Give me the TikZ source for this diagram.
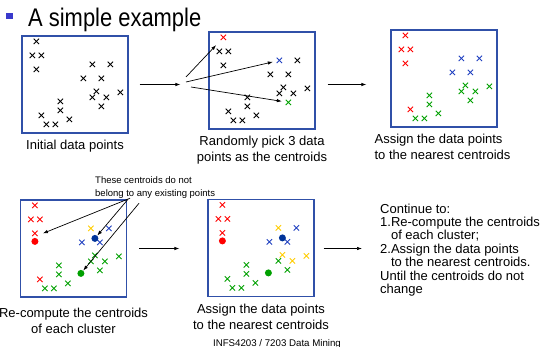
\documentclass[tikz,border=0pt]{standalone}
\usepackage{fontspec}
\setmainfont{Liberation Sans}
\newfontfamily\titlefont[FakeStretch=0.86]{Liberation Sans}
\usetikzlibrary{positioning,shapes.misc,arrows.meta}
\definecolor{kr}{HTML}{FF0000}
\definecolor{kb}{HTML}{2040C0}
\definecolor{kg}{HTML}{00A000}
\definecolor{ky}{HTML}{FFCC00}
\definecolor{kk}{HTML}{000000}
\definecolor{kdb}{HTML}{003399}
\definecolor{boxblue}{HTML}{3050A8}
\definecolor{bullet}{HTML}{3A3ACC}
\tikzset{box/.style={draw=boxblue,line width=1.2pt,minimum width=106pt,minimum height=97pt,inner sep=0pt},
  pnt/.style={cross out,draw,minimum size=4.5pt,inner sep=0pt,line width=0.8pt},
  cen/.style={circle,inner sep=0pt,minimum size=7pt},
  capt/.style={font=\fontsize{13}{16}\selectfont,align=center,inner sep=0pt},
  remark/.style={font=\fontsize{9.5}{12.5}\selectfont,align=left,inner sep=0pt,anchor=north west},
  arr/.style={-{Latex[length=5pt,width=3.5pt]},line width=0.7pt}}
% data points, offsets from the top left corner of a box
\def\ptx{{15,11,20,15,71,89,62,80,75,71,85,99,80,39,39,20,48,25,34}}
\def\pty{{6,20,20,34,29,29,43,43,56,62,62,57,71,66,75,80,84,89,89}}
\newcommand{\drawpts}[2]{%
  \foreach \c [count=\i from 0] in {#2}{%
    \pgfmathsetmacro{\ptdx}{\ptx[\i]}%
    \pgfmathsetmacro{\ptdy}{\pty[\i]}%
    \node[pnt,draw=\c] (#1-\i) at ([shift={(\ptdx,\ptdy)}]#1.north west) {};}}

\begin{document}
\begin{tikzpicture}[x=1pt,y=-1pt]
\useasboundingbox (0,0) rectangle (541,347);

\node[fill=bullet,minimum size=6.6pt,inner sep=0pt] (bul) at (9.3,16) {};
\node[font=\titlefont\fontsize{25.5}{28}\selectfont,anchor=base west,inner sep=0pt] (title) at (28,26.7) {A simple example};

\node[box] (b1) at (75,84.5) {};
\node[box] (b2) at (262,80.5) {};
\node[box] (b3) at (444,78.5) {};
\node[box] (b4) at (73.5,248.5) {};
\node[box] (b5) at (261,248) {};

\drawpts{b1}{kk,kk,kk,kk,kk,kk,kk,kk,kk,kk,kk,kk,kk,kk,kk,kk,kk,kk,kk}
\drawpts{b2}{kr,kk,kk,kk,kb,kk,kk,kk,kk,kk,kk,kk,kg,kk,kk,kk,kk,kk,kk}
\drawpts{b3}{kr,kr,kr,kr,kb,kb,kb,kb,kg,kg,kg,kg,kg,kg,kg,kr,kg,kg,kg}
\drawpts{b4}{kr,kr,kr,kr,ky,kb,kb,kb,kg,kg,kg,kg,kg,kg,kg,kr,kg,kg,kg}
\drawpts{b5}{kr,kr,kr,kr,ky,kb,kb,kb,ky,kg,ky,ky,kg,kg,kg,kg,kg,kg,kg}

% centroids
\node[cen,fill=kr] (c4r) at ([shift={(15,42)}]b4.north west) {};
\node[cen,fill=kdb] (c4b) at ([shift={(75,39)}]b4.north west) {};
\node[cen,fill=kg] (c4g) at ([shift={(61,74)}]b4.north west) {};
\node[cen,fill=kr] (c5r) at ([shift={(15,42)}]b5.north west) {};
\node[cen,fill=kdb] (c5b) at ([shift={(75,39)}]b5.north west) {};
\node[cen,fill=kg] (c5g) at ([shift={(61,74)}]b5.north west) {};

\node[capt,below=6.5pt of b1] (t1) {Initial data points};
\node[capt,below=6.5pt of b2] (t2) {Randomly pick 3 data\\points as the centroids};
\node[capt,align=left,anchor=north west] (t3) at ([xshift=-16pt,yshift=-6pt]b3.south west) {Assign the data points\\to the nearest centroids};
\node[capt,below=10pt of b4] (t4) {Re-compute the centroids\\of each cluster};
\node[capt,below=7pt of b5] (t5) {Assign the data points\\to the nearest centroids};

\node[capt,align=left,anchor=north west,font=\fontsize{13}{13.4}\selectfont] (cont) at (380,203.5)
  {Continue to:\\1.Re-compute the centroids\\\hphantom{1.}of each cluster;\\2.Assign the data points\\\hphantom{2.}to the nearest centroids.\\Until the centroids do not\\change};

\node[remark] (note) at (95,176.5) {These centroids do not\\belong to any existing points};
\node[font=\fontsize{9.7}{11}\selectfont,anchor=base] (foot) at (277,346.3) {INFS4203 / 7203 Data Mining};

% arrows between the steps
\draw[arr] ([xshift=11pt]b1.east) -- ([xshift=-28pt]b2.west |- b1.east);
\draw[arr] ([xshift=12pt]b2.east |- b1.east) -- ([xshift=-24pt]b3.west |- b1.east);
\draw[arr] ([xshift=12pt]b4.east) -- ([xshift=-28pt]b5.west |- b4.east);
\draw[arr] ([xshift=9pt]b5.east |- b4.east) -- ([xshift=-18pt]cont.west |- b4.east);

% random pick
\coordinate (s1) at (186,77);
\coordinate (s2) at (186,82);
\coordinate (s3) at (191,87);
\draw[arr,shorten >=7pt] (s1) -- (b2-0);
\draw[arr,shorten >=4pt] (s2) -- (b2-4);
\draw[arr,shorten >=4pt] (s3) -- (b2-12);

% pointers to the new centroids
\coordinate (nr) at ([xshift=35pt]note.south west);
\coordinate (nb) at ([xshift=33pt,yshift=-1pt]note.south west);
\coordinate (ng) at ([xshift=44pt,yshift=-5pt]note.south west);
\coordinate (rtip) at ([shift={(8,-8)}]c4r.center);
\draw[arr] (nr) -- (rtip);
\draw[arr] (nb) -- (c4b);
\draw[arr] (ng) -- (c4g);
\end{tikzpicture}
\end{document}
